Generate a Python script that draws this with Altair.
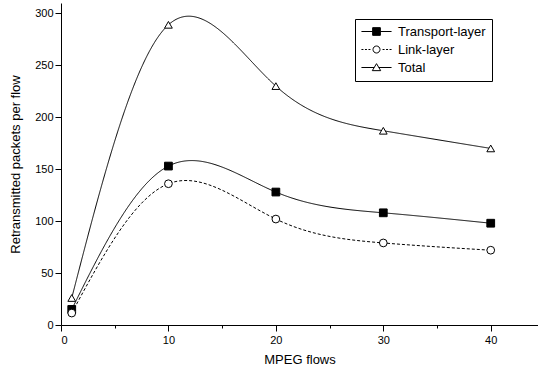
import altair as alt
import pandas as pd

flows = [1, 10, 20, 30, 40]
transport = [15, 153, 128, 108, 98]
link = [11.5, 136, 102, 79, 72]
total = [26, 289, 230, 187, 170]
series_names = ["Transport-layer", "Link-layer", "Total"]

rows = []
for name, vals in zip(series_names, [transport, link, total]):
    for f, v in zip(flows, vals):
        rows.append({"flows": f, "value": v, "series": name})
df = pd.DataFrame(rows)

x_ticks = list(range(0, 45, 5))
y_ticks = list(range(0, 325, 25))

xs = alt.Scale(domain=[0, 44.4], nice=False, zero=False)
ys = alt.Scale(domain=[0, 310], nice=False)

x_axis = alt.Axis(
    values=x_ticks, title="MPEG flows", grid=False,
    labelExpr="datum.value % 10 === 0 ? datum.label : ''",
    tickSize={"condition": {"test": "datum.value % 10 === 0", "value": 6}, "value": 3},
    domainColor="black", tickColor="black", labelColor="black", titleColor="black",
    labelFont="Liberation Sans", titleFont="Liberation Sans",
    labelFontSize=11, titleFontSize=13, titleFontWeight="normal",
    labelPadding=3, titlePadding=8,
)
y_axis = alt.Axis(
    values=y_ticks, title="Retransmitted packets per flow", grid=False,
    labelExpr="datum.value % 50 === 0 ? datum.label : ''",
    tickSize={"condition": {"test": "datum.value % 50 === 0", "value": 6}, "value": 3},
    domainColor="black", tickColor="black", labelColor="black", titleColor="black",
    labelFont="Liberation Sans", titleFont="Liberation Sans",
    labelFontSize=11, titleFontSize=13, titleFontWeight="normal",
    labelPadding=2, titlePadding=12,
)

base = alt.Chart(df).encode(
    x=alt.X("flows:Q", scale=xs, axis=x_axis),
    y=alt.Y("value:Q", scale=ys, axis=y_axis),
)

lines = base.mark_line(color="black", strokeWidth=1, interpolate="natural").encode(
    strokeDash=alt.StrokeDash(
        "series:N",
        scale=alt.Scale(domain=series_names, range=[[1, 0], [3, 2], [1, 0]]),
        legend=None,
    ),
    detail="series:N",
)

points = base.mark_point(stroke="black", strokeWidth=1, size=60, opacity=1).encode(
    shape=alt.Shape(
        "series:N",
        scale=alt.Scale(domain=series_names, range=["square", "circle", "triangle-up"]),
        legend=None,
    ),
    fill=alt.Fill(
        "series:N",
        scale=alt.Scale(domain=series_names, range=["black", "white", "white"]),
        legend=None,
    ),
)

# legend symbol paths (unit = sqrt(size)/2 px)
sq = "M-4.3,0L-1.1,0M1.1,0L4.3,0M-1.1,-1.1L1.1,-1.1L1.1,1.1L-1.1,1.1Z"
dash = ("M-4.3,0L-3.73,0M-3.3,0L-2.73,0M-2.3,0L-1.73,0"
        "M1.73,0L2.3,0M2.73,0L3.3,0M3.73,0L4.3,0")
circ = dash + "M1,0A1,1 0 1,1 -1,0A1,1 0 1,1 1,0Z"
tri = "M-4.3,0L-0.66,0M0.66,0L4.3,0M0,-1.1L1.2,0.9L-1.2,0.9Z"

leg = alt.Legend(
    title=None, orient="none", legendX=294, legendY=16,
    strokeColor="black", padding=6, rowPadding=4,
    labelFont="Liberation Sans", labelFontSize=13, labelColor="black",
    symbolOffset=9, labelOffset=15, symbolSize=49,
    symbolStrokeWidth=1, symbolStrokeColor="black", labelLimit=300,
)

legend_layer = alt.Chart(df).transform_filter("datum.flows < 0").mark_point(
    strokeWidth=1, size=49, opacity=1
).encode(
    x=alt.X("flows:Q", scale=xs),
    y=alt.Y("value:Q", scale=ys),
    shape=alt.Shape(
        "series:N",
        scale=alt.Scale(domain=series_names, range=[sq, circ, tri]),
        legend=leg,
    ),
    fill=alt.Fill(
        "series:N",
        scale=alt.Scale(domain=series_names, range=["black", "white", "white"]),
        legend=leg,
    ),
    stroke=alt.Stroke(
        "series:N",
        scale=alt.Scale(domain=series_names, range=["black", "black", "black"]),
        legend=leg,
    ),
)

chart = (
    alt.layer(lines, points, legend_layer)
    .resolve_scale(shape="independent", fill="independent", stroke="independent")
    .properties(
        width=477, height=322,
        autosize=alt.AutoSizeParams(type="none"),
        padding={"left": 61, "top": 3, "right": 0, "bottom": 45},
        background="white",
    )
    .configure_view(stroke=None)
)

chart.save("out.html", embed_options={"renderer": "svg", "actions": False})
